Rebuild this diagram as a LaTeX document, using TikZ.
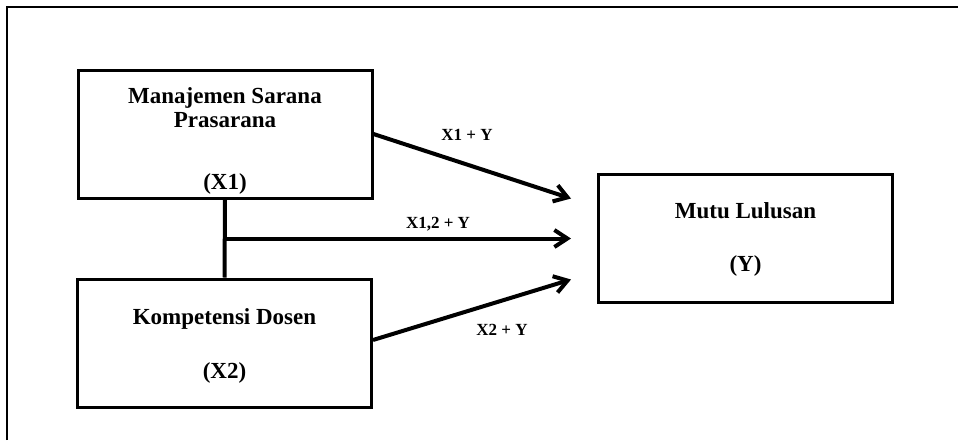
\documentclass[tikz,border=0pt]{standalone}
\usepackage{fontspec}
\setmainfont{Liberation Serif}
\usetikzlibrary{arrows.meta,calc}

\begin{document}
\begin{tikzpicture}[x=1pt,y=-1pt,
  box/.style={draw,line width=3pt,minimum width=294pt,minimum height=128pt,
    inner sep=0pt},
  txt/.style={align=center,inner sep=0pt,
    font=\fontsize{23}{24}\selectfont\bfseries},
  link/.style={line width=4pt},
  arr/.style={link,-{Straight Barb[length=13pt,width=17pt]}},
  lbl/.style={font=\fontsize{17}{18}\selectfont\bfseries}]

  \useasboundingbox (0,0) rectangle (958,440);

  % frame (cut by the page on the right and bottom)
  \draw[line width=2pt] (7,440) -- (7,7) -- (958,7);

  % variables
  \node[box] (x1) at (225,134)     {};
  \node[box] (x2) at (224.5,343)   {};
  \node[box] (y)  at (745.5,238.5) {};
  \node[txt] (x1t) at ($(x1)+(0,7)$) {Manajemen Sarana\\Prasarana\\[38pt](X1)};
  \node[txt] (x2t) at ($(x2)+(0,3)$) {Kompetensi Dosen\\[30pt](X2)};
  \node[txt] (yt)  at ($(y)+(0,1)$)  {Mutu Lulusan\\[29pt](Y)};

  % arrow ends in front of Y
  \coordinate (t1) at ($(y.west)+(-26,-40)$);
  \coordinate (t3) at ($(y.west)+(-26,41)$);
  \coordinate (m)  at ($(x1.south)!0.5!(x2.north)$);
  \coordinate (t2) at (m -| t1);

  % connectors
  \draw[link] (x1.south) -- (x2.north);
  \draw[arr] (x1.east) -- (t1);
  \draw[arr] (m) -- (t2);
  \draw[arr] ($(x2.east)+(0,-3)$) -- (t3);

  % labels
  \node[lbl] (l1)  at (467,135) {X1 + Y};
  \node[lbl] (l12) at (438,224) {X1,2 + Y};
  \node[lbl] (l2)  at (502,330) {X2 + Y};
\end{tikzpicture}
\end{document}
